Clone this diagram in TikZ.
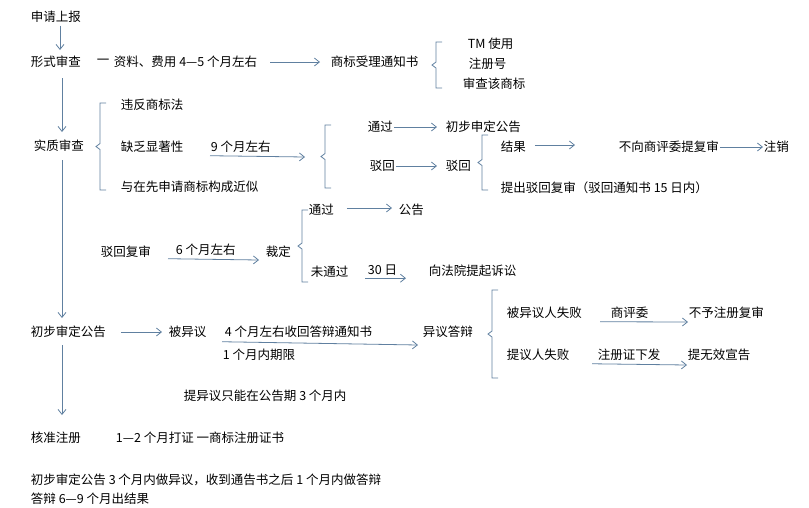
\documentclass[tikz,border=0pt]{standalone}
\usepackage{fontspec}
\setmainfont{Noto Sans CJK SC}
\usetikzlibrary{positioning,arrows.meta}
\definecolor{arrowblue}{RGB}{96,128,160}
\tikzset{
  lbl/.style={anchor=west,inner sep=0.75pt,font=\fontsize{12.5}{14}\selectfont},
  arr/.style={draw=arrowblue,line width=0.8pt,-{Straight Barb[length=5pt,width=8pt]}},
  brc/.style={draw=arrowblue,line width=0.8pt},
}
% brace: x, top y, bottom y
\newcommand\grpbrace[3]{%
  \draw[brc] (#1+10,#2) -- (#1+4,#2) -- (#1+4,{(#2+#3)/2-3}) -- (#1,{(#2+#3)/2}) -- (#1+4,{(#2+#3)/2+3}) -- (#1+4,#3) -- (#1+10,#3);}
\begin{document}
\begin{tikzpicture}[x=1pt,y=1pt,yscale=-1]
\useasboundingbox (0,0) rectangle (809,507);

% Text Nodes
\node[lbl] (apply) at (30,17) {申请上报};
\node[lbl] (formal) at (30,62) {形式审查};
\node[lbl] (dash1) at (96,62) {一};
\node[lbl] (fee) at (113,62) {资料、费用 4—5 个月左右};
\node[lbl] (notice) at (330,62) {商标受理通知书};
\node[lbl] (tm) at (467,44) {TM 使用};
\node[lbl] (regno) at (468,64) {注册号};
\node[lbl] (check) at (462,84) {审查该商标};

\node[lbl] (subst) at (33,146) {实质审查};
\node[lbl] (law) at (120,105) {违反商标法};
\node[lbl] (lack) at (120,147) {缺乏显著性};
\node[lbl] (similar) at (120,187) {与在先申请商标构成近似};
\node[lbl] (m9) at (210,147) {9 个月左右};
\coordinate (m9end) at (305,157);

\node[lbl] (pass1) at (367,127) {通过};
\node[lbl] (prelim1) at (445,127) {初步申定公告};
\node[lbl] (rej1) at (369,166) {驳回};
\node[lbl] (rej2) at (445,166) {驳回};
\node[lbl] (result) at (500,147) {结果};
\coordinate (resend) at (575,145);
\node[lbl] (noreview) at (618,147) {不向商评委提复审};
\node[lbl] (cancel) at (763,147) {注销};
\node[lbl] (review) at (500,188) {提出驳回复审（驳回通知书 15 日内）};

\node[lbl] (rreview) at (100,252) {驳回复审};
\node[lbl] (m6) at (175,250) {6 个月左右};
\node[lbl] (ruling) at (265,252) {裁定};
\node[lbl] (pass2) at (308,210) {通过};
\node[lbl] (announce) at (398,210) {公告};
\node[lbl] (fail) at (310,272) {未通过};
\node[lbl] (d30) at (367,270) {30 日};
\node[lbl] (court) at (428,271) {向法院提起诉讼};

\node[lbl] (prelim2) at (30,332) {初步审定公告};
\node[lbl] (oppose) at (168,332) {被异议};
\node[lbl] (m4) at (224,332) {4 个月左右收回答辩通知书};
\node[lbl] (m1) at (222,355) {1 个月内期限};
\node[lbl] (defend) at (422,332) {异议答辩};
\node[lbl] (lose1) at (506,313) {被异议人失败};
\node[lbl] (trab) at (610,313) {商评委};
\node[lbl] (refuse) at (688,313) {不予注册复审};
\node[lbl] (lose2) at (506,355) {提议人失败};
\node[lbl] (cert) at (597,355) {注册证下发};
\node[lbl] (invalid) at (687,355) {提无效宣告};
\node[lbl] (only3) at (183,396) {提异议只能在公告期 3 个月内};

\node[lbl] (approve) at (30,438) {核准注册};
\node[lbl] (print) at (115,438) {1—2 个月打证 一商标注册证书};
\node[lbl] (note1) at (30,480) {初步审定公告 3 个月内做异议，收到通告书之后 1 个月内做答辩};
\node[lbl] (note2) at (30,499) {答辩 6—9 个月出结果};

% Braces
\grpbrace{432}{42}{88}
\grpbrace{96}{103}{190}
\grpbrace{321}{125}{188}
\grpbrace{478}{135}{190}
\grpbrace{298}{210}{282}
\grpbrace{488}{290}{378}

% Arrows
\draw[arr] (apply.south -| 60,0) ++(0,2) -- (60,50);
\draw[arr] (fee.east) ++(12,0) -- ([xshift=-10pt]notice.west);
\draw[arr] (62,78) -- (62,132);
\draw[arr] (62,160) -- (62,318);
\draw[arr] (62,345) -- (62,415);
\draw[arr] (m9.south west) ++(0,2) -- (m9end);
\draw[arr] (pass1.east) -- ([xshift=-8pt]prelim1.west);
\draw[arr] (rej1.east) -- ([xshift=-8pt]rej2.west);
\draw[arr] ([xshift=8pt,yshift=-2pt]result.east) -- (resend);
\draw[arr] (noreview.east) -- (cancel.west);
\draw[arr] (pass2.east) ++(12,-2) -- ([xshift=-6pt,yshift=-2pt]announce.west);
\draw[arr] (m6.south west) ++(-7,2) -- ([xshift=-6pt,yshift=8pt]ruling.west);
\draw[arr] (d30.south west) ++(-2,2) -- ++(41,0);
\draw[arr] ([xshift=14pt]prelim2.east) -- ([xshift=-6pt]oppose.west);
\draw[arr] (m4.south west) ++(-2,3) -- ([xshift=-4pt,yshift=13pt]defend.west);
\draw[arr] (trab.south west) ++(-10,2) -- ([yshift=9pt]refuse.west);
\draw[arr] (cert.south west) ++(-5,2) -- ([yshift=10pt]invalid.west);
\end{tikzpicture}
\end{document}
